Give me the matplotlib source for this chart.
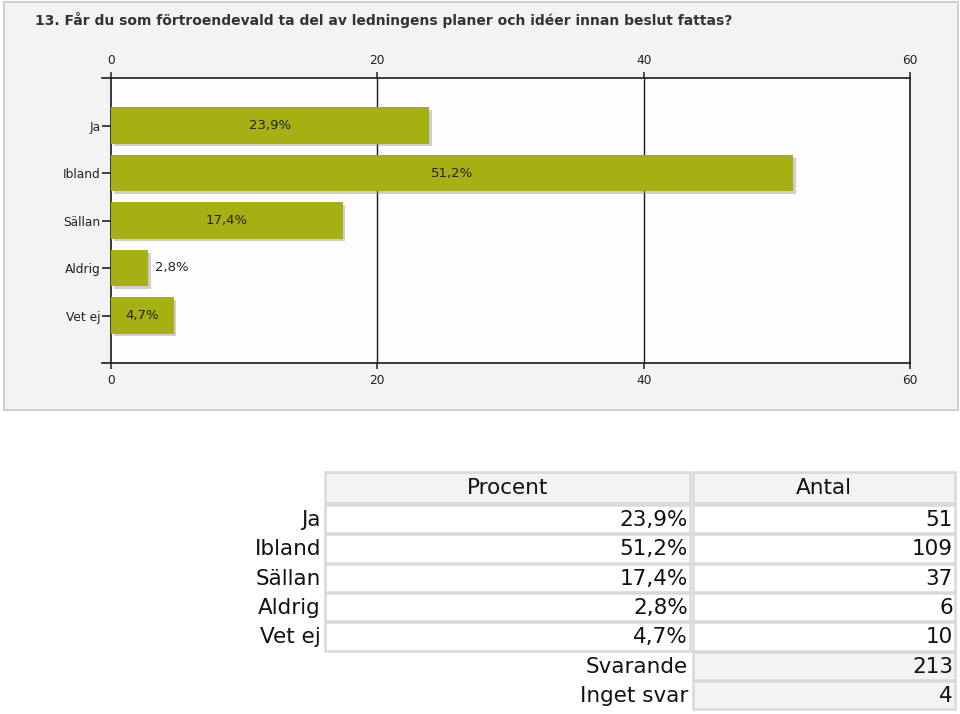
import matplotlib.pyplot as plt
import matplotlib.patheffects as pe
from matplotlib.patches import Rectangle

title = "13. Får du som förtroendevald ta del av ledningens planer och idéer innan beslut fattas?"
categories = ["Ja", "Ibland", "Sällan", "Aldrig", "Vet ej"]
percents = [23.9, 51.2, 17.4, 2.8, 4.7]
counts = [51, 109, 37, 6, 10]
svarande = 213
inget_svar = 4
x_ticks = [0, 20, 40, 60]

W, H = 960, 714
bar_color = "#a7b012"
grid_col = "#d9d9d9"


def fmt_pct(v):
    return f"{v:.1f}%".replace(".", ",")


def fig_box(x0, y0, x1, y1):
    # pixel box (top-left origin) -> figure fraction [left, bottom, width, height]
    return [x0 / W, 1 - y1 / H, (x1 - x0) / W, (y1 - y0) / H]


fig = plt.figure(figsize=(W / 100, H / 100), dpi=100)
fig.patch.set_facecolor("white")

# background layer in pixel coordinates
bg = fig.add_axes([0, 0, 1, 1])
bg.set_xlim(0, W)
bg.set_ylim(H, 0)
bg.axis("off")

bg.add_patch(Rectangle((4, 2), 954, 408, facecolor="#f3f3f3", edgecolor="#d0d0d0", lw=1.5))
bg.text(35, 20, title, fontsize=10, fontweight="bold", color="#333333", va="center", ha="left")

# ---- table ----
lab_r = 322
c1 = (325, 690)
c2 = (693, 955)
head = (472, 503)
row_h = 29.3
row0 = 505
fs = 15.5
tc = "#111111"


def cell(x0, x1, y0, y1, fc):
    bg.add_patch(Rectangle((x0, y0), x1 - x0, y1 - y0, facecolor=fc, edgecolor=grid_col, lw=1.8))


cell(*c1, *head, "#f3f3f3")
cell(*c2, *head, "#f3f3f3")
ym = (head[0] + head[1]) / 2 + 1
bg.text((c1[0] + c1[1]) / 2, ym, "Procent", fontsize=fs, color=tc, ha="center", va="center")
bg.text((c2[0] + c2[1]) / 2, ym, "Antal", fontsize=fs, color=tc, ha="center", va="center")

for i, (cat, p, n) in enumerate(zip(categories, percents, counts)):
    y0 = row0 + i * row_h
    y1 = y0 + row_h - 1
    yc = (y0 + y1) / 2 + 1
    cell(*c1, y0, y1, "white")
    cell(*c2, y0, y1, "white")
    bg.text(lab_r - 1, yc, cat, fontsize=fs, color=tc, ha="right", va="center")
    bg.text(c1[1] - 2, yc, fmt_pct(p), fontsize=fs, color=tc, ha="right", va="center")
    bg.text(c2[1] - 2, yc, str(n), fontsize=fs, color=tc, ha="right", va="center")

extra = [("Svarande", svarande), ("Inget svar", inget_svar)]
for j, (lab, n) in enumerate(extra):
    y0 = row0 + (len(categories) + j) * row_h
    y1 = y0 + row_h - 1
    yc = (y0 + y1) / 2 + 1
    cell(*c2, y0, y1, "#f3f3f3")
    bg.text(c1[1] - 2, yc, lab, fontsize=fs, color=tc, ha="right", va="center")
    bg.text(c2[1] - 2, yc, str(n), fontsize=fs, color=tc, ha="right", va="center")

# ---- bar chart ----
ax = fig.add_axes(fig_box(111, 78, 910, 363))
ax.set_facecolor("#fdfdfd")
ypos = list(range(len(categories)))
bars = ax.barh(ypos, percents, height=0.76, color=bar_color, zorder=3)
for b in bars:
    b.set_path_effects([pe.SimplePatchShadow(offset=(2, -2), shadow_rgbFace="#888888", alpha=0.4),
                        pe.Normal()])

for y, p in zip(ypos, percents):
    if p > 4:
        ax.text(p / 2, y, fmt_pct(p), fontsize=9.5, color="#222222", ha="center", va="center", zorder=4)
    else:
        ax.text(p + 0.5, y, fmt_pct(p), fontsize=9.5, color="#222222", ha="left", va="center", zorder=4)

ax.set_xlim(0, 60)
ax.set_ylim(len(categories), -1)
for xv in x_ticks[1:-1]:
    ax.axvline(xv, color="#1a1a1a", lw=1.0, zorder=1)

ax.set_yticks(ypos)
ax.set_yticklabels(categories, fontsize=8.8, color="#222222")
ax.set_xticks(x_ticks)
ax.tick_params(axis="y", length=6.5, width=1.2, pad=1, color="#222222")
ax.tick_params(axis="x", which="both", top=True, labeltop=True, bottom=True, labelbottom=True,
               labelsize=8.8, labelcolor="#222222", color="#222222", width=1.1)
ax.tick_params(axis="x", length=4, pad=4)

for s in ax.spines.values():
    s.set_color("#1a1a1a")
    s.set_linewidth(1.2)
ax.spines["top"].set_bounds(-0.7, 60)
ax.spines["bottom"].set_bounds(-0.7, 60)

fig.savefig("out.png", dpi=100)
